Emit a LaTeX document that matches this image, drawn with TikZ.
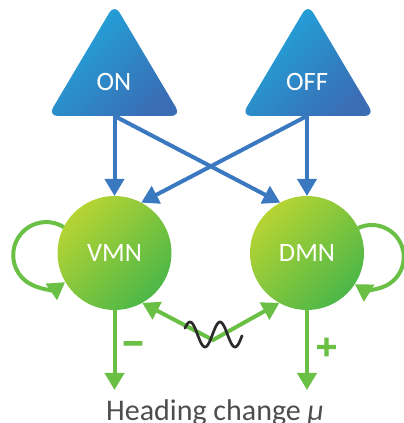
\documentclass[tikz,border=0pt]{standalone}
\usepackage{fontspec}
\setmainfont{Carlito}
\newfontfamily\signfont[BoldFeatures={FakeBold=4}]{DejaVu Sans}
\usetikzlibrary{arrows.meta,shadings}
\definecolor{blueL}{HTML}{1FA9DD}
\definecolor{blueD}{HTML}{3A6DB4}
\definecolor{blueA}{HTML}{3A78BF}
\definecolor{greenL}{HTML}{B6D433}
\definecolor{greenD}{HTML}{4CB748}
\definecolor{greenA}{HTML}{6ABF45}
\definecolor{txtgray}{HTML}{4D4D4D}
\definecolor{wave}{HTML}{2B2B2B}
\tikzset{
  tri/.style={top color=blueL, bottom color=blueD, shading angle=45, rounded corners=10pt},
  neuron/.style={circle, minimum size=114pt, inner sep=0pt, outer sep=0pt,
    top color=greenL, bottom color=greenD, shading angle=45,
    text=white, font=\fontsize{26.5}{28}\selectfont},
  label/.style={text=white, inner sep=0pt, font=\fontsize{26.5}{28}\selectfont},
  barrow/.style={draw=blueA, line width=4pt, -{Triangle[width=19pt,length=17pt]}},
  gline/.style={draw=greenA, line width=4pt},
  garrow/.style={gline, -{Triangle[width=19pt,length=17pt]}},
  sign/.style={text=greenA, inner sep=0pt, font=\signfont\bfseries\fontsize{28}{30}\selectfont},
}
\begin{document}
\begin{tikzpicture}[x=1pt,y=1pt]
\useasboundingbox (0,0) rectangle (404,423);
% triangles
\path[tri] (114.5,419) -- (181,307) -- (48,307) -- cycle;
\path[tri] (308,419) -- (374.5,307) -- (241.5,307) -- cycle;
\node[label] (on) at (114,341) {ON};
\node[label] (off) at (307,341) {OFF};
\coordinate (onb) at (114.5,307);
\coordinate (offb) at (307,307);
% neurons
\node[neuron] (vmn) at (114.5,170) {VMN};
\node[neuron] (dmn) at (307,170) {DMN};
% blue inputs
\draw[barrow] (onb) -- (vmn);
\draw[barrow] (onb) -- (dmn.118);
\draw[barrow] (offb) -- (dmn);
\draw[barrow] (offb) -- (vmn.62);
% self loops
\draw[garrow] (vmn.153) arc[start angle=58, end angle=305, radius=33];
\draw[garrow] (dmn.26) arc[start angle=115, end angle=-122, radius=32];
% outputs
\coordinate (vout) at (114.5,33);
\coordinate (dout) at (307,33);
\draw[garrow] (vmn) -- (vout);
\draw[garrow] (dmn) -- (dout);
\node[sign] (minus) at (133,76) {−};
\node[sign] (plus) at (326.5,76) {+};
% coupling
\coordinate (cpl) at (213,83);
\draw[gline, {Triangle[width=19pt,length=17pt]}-{Triangle[width=19pt,length=17pt]}] (vmn.-61) -- (cpl) -- (dmn.-119);
\draw[wave, line width=2.7pt, line cap=round] plot[domain=185:242, samples=80, smooth] (\x, {88.5+12.5*sin(12*(\x-182.5))});
% heading
\node[anchor=base west, inner sep=0pt, text=txtgray, font=\fontsize{30}{32}\selectfont] (head) at (106,2.5) {Heading change \textit{μ}};
\end{tikzpicture}
\end{document}
